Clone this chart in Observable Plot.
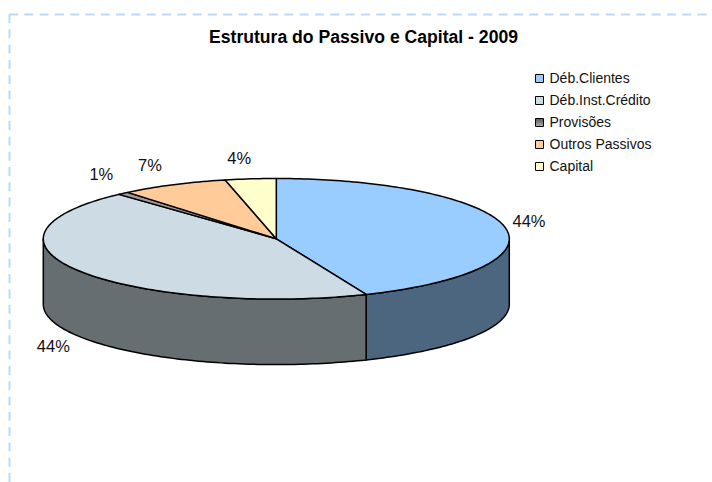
<!DOCTYPE html>
<html>
<head>
<meta charset="utf-8">
<style>html,body{margin:0;padding:0;background:#fff}svg{display:block}</style>
<script src="https://cdn.jsdelivr.net/npm/d3@7"></script>
<script src="https://cdn.jsdelivr.net/npm/@observablehq/plot@0.6"></script>
</head>
<body>
<div id="chart"></div>
<script>
const titleText = "Estrutura do Passivo e Capital - 2009";
const categories = ["Déb.Clientes", "Déb.Inst.Crédito", "Provisões", "Outros Passivos", "Capital"];
const shares = [43.7, 44.49, 0.8, 7.49, 3.52];
const colors = ["#99ccff", "#cddce4", "#999999", "#ffcc99", "#ffffcc"];
const swatchColors = ["#99ccff", "#cddce4", "url(#provGrad)", "#ffcc99", "#ffffcc"];

// label placement factors (ellipse-radius multiples), per slice
const labelRx = [1.106, 1.136, 1.143, 1.23, 1.44];
const labelRy = [1.44, 1.30, 1.415, 1.356, 1.337];
const labelDrop = [0, 1, 0, 0, 0];

// frame geometry
const W = 712, H = 482, cx = 275.8, cy = 238.3, rx = 233, ry = 60.3, depthPx = 65.5;
const px = d3.scaleLinear().domain([cx - rx, cx + rx]).range([-1, 1]);
const py = d3.scaleLinear().domain([cy + ry, cy - ry]).range([-1, 1]);
const depth = depthPx / ry;

const font = "'Liberation Sans', Arial, sans-serif";
const arcs = d3.pie().sort(null).value(d => d)(shares);
const steps = a => d3.range(0, 1.0001, 1 / Math.max(2, Math.ceil((a.endAngle - a.startAngle) / 0.02)))
  .map(t => a.startAngle + t * (a.endAngle - a.startAngle));

const topPts = [], sidePts = [];
arcs.forEach((a, i) => {
  const angles = steps(a);
  const poly = [{x: 0, y: 0}, ...angles.map(t => ({x: Math.sin(t), y: Math.cos(t)})), {x: 0, y: 0}];
  poly.forEach(p => topPts.push({...p, z: i, color: colors[i]}));
  // visible rim: the part of the arc on the front half of the disc
  const s = Math.max(a.startAngle, Math.PI / 2), e = Math.min(a.endAngle, 3 * Math.PI / 2);
  if (e > s) {
    const f = steps({startAngle: s, endAngle: e});
    const c = d3.rgb(colors[i]);
    const side = d3.rgb(c.r * 0.5, c.g * 0.5, c.b * 0.5).formatHex();
    const rim = [
      ...f.map(t => ({x: Math.sin(t), y: Math.cos(t)})),
      ...f.slice().reverse().map(t => ({x: Math.sin(t), y: Math.cos(t) - depth}))
    ];
    rim.push(rim[0]);
    rim.forEach(p => sidePts.push({...p, z: i, color: side}));
  }
});

const labels = arcs.map((a, i) => {
  const m = (a.startAngle + a.endAngle) / 2;
  return {
    x: Math.sin(m) * labelRx[i],
    y: Math.cos(m) * labelRy[i] - labelDrop[i] * depth,
    text: Math.round(shares[i]) + "%"
  };
});

const legend = categories.map((c, i) => ({name: c, fill: swatchColors[i], row: i}));
const legendY = d => py(78 + d.row * 22);

const gradient = () => {
  const s = d3.create("svg:g");
  const g = s.append("defs").append("linearGradient")
    .attr("id", "provGrad").attr("x1", 0).attr("y1", 0).attr("x2", 0).attr("y2", 1);
  g.append("stop").attr("offset", "0%").attr("stop-color", "#555");
  g.append("stop").attr("offset", "100%").attr("stop-color", "#b0b0b0");
  return s.node();
};

const border = "#b9dafc";
const chart = Plot.plot({
  width: W, height: H, margin: 0,
  x: {axis: null, domain: [px(0), px(W)], range: [0, W]},
  y: {axis: null, domain: [py(H), py(0)], range: [H, 0]},
  color: {type: "identity"},
  style: {background: "#fff", fontFamily: font},
  marks: [
    gradient,
    Plot.ruleY([py(14)], {x1: px(9), x2: px(W), stroke: border, strokeWidth: 2, strokeDasharray: "9,6.3"}),
    Plot.ruleX([px(9)], {y1: py(14), y2: py(H), stroke: border, strokeWidth: 2, strokeDasharray: "9,6.3"}),
    Plot.line(sidePts, {x: "x", y: "y", z: "z", fill: "color", stroke: "#000", strokeWidth: 1.5, strokeLinejoin: "round"}),
    Plot.line(topPts, {x: "x", y: "y", z: "z", fill: "color", stroke: "#000", strokeWidth: 1.5, strokeLinejoin: "round"}),
    Plot.text(labels, {x: "x", y: "y", text: "text", fontSize: 16.5, fill: "#111"}),
    Plot.text([titleText], {x: () => px(363), y: () => py(37), text: d => d, fontSize: 17.6, fontWeight: "bold", fill: "#000"}),
    Plot.dot(legend, {x: () => px(539), y: legendY, symbol: "square", r: 4.5, fill: "fill", stroke: "#000", strokeWidth: 1}),
    Plot.text(legend, {x: () => px(549), y: legendY, text: "name", textAnchor: "start", fontSize: 14, fill: "#111"})
  ]
});
document.getElementById("chart").appendChild(chart);
</script>
</body>
</html>
